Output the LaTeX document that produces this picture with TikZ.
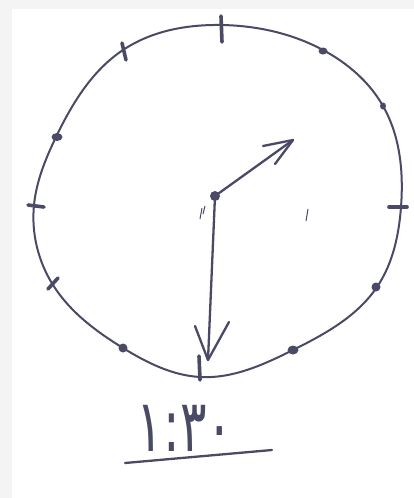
\documentclass[tikz,border=0pt]{standalone}
\usepackage{fontspec}
\usetikzlibrary{hobby}
\newfontfamily\arabicfont[Script=Arabic]{DejaVu Sans}
\definecolor{ink}{HTML}{4A4A66}
\definecolor{outer}{HTML}{F4F4F4}
\begin{document}
\begin{tikzpicture}[x=1pt,y=-1pt,
  pen/.style={draw=ink,line width=2.3pt,line cap=round,line join=round},
  dialline/.style={draw=ink,line width=2pt,line cap=round,line join=round},
  tickmark/.style={draw=ink,line width=3.6pt,line cap=round},
  dotmark/.style={fill=ink}]
\useasboundingbox (0,0) rectangle (414,498);
\fill[outer] (0,0) rectangle (414,498);
\fill[white] (12,9) rectangle (414,498);
% dial
\draw[dialline] plot[closed hobby] coordinates {(221,25) (323,50) (383,106) (401,207) (377,287) (293,350) (200,377) (123,348) (53,285) (34,205) (56,137) (123,50)};
% ticks
\draw[tickmark] (221,16) -- (222,42);
\draw[tickmark] (122,43) -- (126,60);
\draw[tickmark] (28,205) -- (44,207);
\draw[tickmark] (389,207) -- (407,207);
\draw[tickmark] (199,356) -- (200,380);
\draw[tickmark] (48,289) -- (58,278);
\fill[dotmark] (323,51) ellipse (4.5pt and 3.5pt);
\fill[dotmark] (383,106) ellipse (3pt and 3.5pt);
\fill[dotmark] (57,137) ellipse (5.5pt and 4pt);
\fill[dotmark] (376,287) ellipse (4.5pt and 4.5pt);
\fill[dotmark] (123,348) ellipse (4.5pt and 4.5pt);
\fill[dotmark] (293,350) ellipse (5.5pt and 4.5pt);
% hands
\coordinate (c) at (215,196);
\coordinate (h) at (293,140);
\coordinate (m) at (208,360);
\fill[dotmark] (c) circle (5pt);
\draw[pen] (c) -- (h);
\draw[pen] (263,146) -- (h) -- (275,164);
\draw[pen] (c) -- (m);
\draw[pen] (195,326) -- (m) -- (229,322);
% stray marks
\draw[draw=ink,line width=1pt] (202,208) -- (200,219);
\draw[draw=ink,line width=1pt] (205,206) -- (203,214);
\draw[draw=ink,line width=1pt] (308,209) -- (306,221);
% time label
\node[text=ink,inner sep=0pt] (time) at (185,428) {\scalebox{0.95}[1.4]{\arabicfont\fontsize{52}{60}\selectfont ۱:۳۰}};
\draw[pen] (125,463) -- (272,450);
\end{tikzpicture}
\end{document}
